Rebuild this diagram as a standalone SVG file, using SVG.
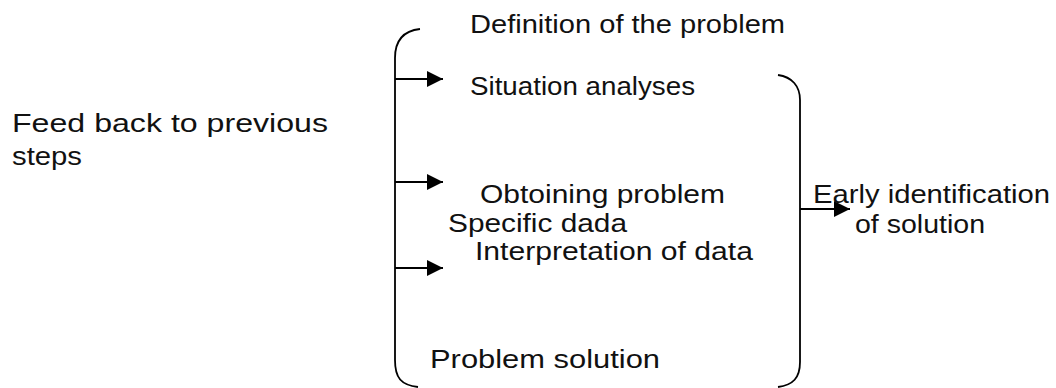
<svg xmlns="http://www.w3.org/2000/svg" width="1056" height="388" viewBox="0 0 1056 388">
<style>
text{font-family:"Liberation Sans",Arial,sans-serif;font-size:26px;fill:#111}
.br{fill:none;stroke:#000;stroke-width:1.8}
.ar{fill:none;stroke:#000;stroke-width:1.8}
</style>
<defs>
<marker id="ah" markerWidth="16" markerHeight="16" refX="16" refY="8" orient="auto" markerUnits="userSpaceOnUse">
<path d="M0,0 L16,8 L0,16 Z" fill="#000"/>
</marker>
</defs>
<rect width="1056" height="388" fill="#fff"/>
<g id="brackets">
<path class="br" d="M420,29 C402,31 395,42 395,58 L395,360 C395,378 401,385 418,387"/>
<path class="br" d="M778,75 C792,77 800,86 800,100 L800,362 C800,378 793,385 778,387"/>
</g>
<g id="connectors">
<line class="ar" x1="395" y1="79" x2="443" y2="79" marker-end="url(#ah)"/>
<line class="ar" x1="395" y1="182" x2="443" y2="182" marker-end="url(#ah)"/>
<line class="ar" x1="395" y1="268" x2="443" y2="268" marker-end="url(#ah)"/>
<line class="ar" x1="800" y1="209" x2="850" y2="209" marker-end="url(#ah)"/>
</g>
<g id="feedback"><text x="12" y="132" textLength="316" lengthAdjust="spacingAndGlyphs">Feed back to previous</text><text x="12" y="165" textLength="70" lengthAdjust="spacingAndGlyphs">steps</text></g>
<g id="definition"><text x="470" y="33" textLength="315" lengthAdjust="spacingAndGlyphs">Definition of the problem</text></g>
<g id="situation"><text x="470" y="95" textLength="225" lengthAdjust="spacingAndGlyphs">Situation analyses</text></g>
<g id="obtaining"><text x="480" y="203" textLength="245" lengthAdjust="spacingAndGlyphs">Obtoining problem</text><text x="448" y="232" textLength="179" lengthAdjust="spacingAndGlyphs">Specific dada</text></g>
<g id="interpretation"><text x="475" y="260" textLength="278" lengthAdjust="spacingAndGlyphs">Interpretation of data</text></g>
<g id="solution"><text x="430" y="368" textLength="230" lengthAdjust="spacingAndGlyphs">Problem solution</text></g>
<g id="early"><text x="813" y="203" textLength="237" lengthAdjust="spacingAndGlyphs">Early identification</text><text x="855" y="233" textLength="130" lengthAdjust="spacingAndGlyphs">of solution</text></g>
</svg>
